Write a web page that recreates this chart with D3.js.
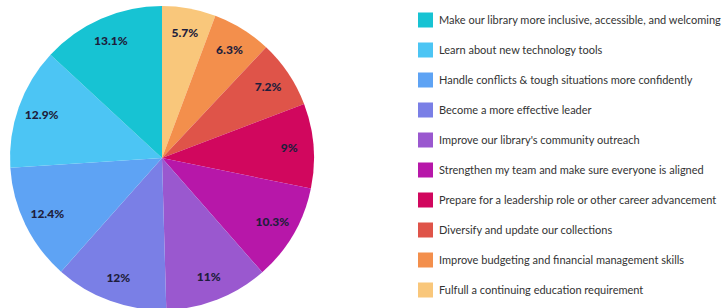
<!DOCTYPE html>
<html>
<head>
<meta charset="utf-8">
<script src="https://cdn.jsdelivr.net/npm/d3@7"></script>
<style>
  body { margin: 0; background: #fff; }
  svg { display: block; }
</style>
</head>
<body>
<div id="chart"></div>
<script>
// legend order (top to bottom)
const goals = [
  'Make our library more inclusive, accessible, and welcoming',
  'Learn about new technology tools',
  'Handle conflicts & tough situations more confidently',
  'Become a more effective leader',
  "Improve our library's community outreach",
  'Strengthen my team and make sure everyone is aligned',
  'Prepare for a leadership role or other career advancement',
  'Diversify and update our collections',
  'Improve budgeting and financial management skills',
  'Fulfull a continuing education requirement'
];
const shares = [13.1, 12.9, 12.4, 12, 11, 10.3, 9, 7.2, 6.3, 5.7];
const labels = ['13.1%', '12.9%', '12.4%', '12%', '11%', '10.3%', '9%', '7.2%', '6.3%', '5.7%'];
const colors = ['#17c3d3', '#4cc5f4', '#5ea3f4', '#7a7fe6', '#9a58cf', '#b717a9', '#d1075e', '#df5449', '#f38f4c', '#f9c77b'];

const width = 725, height = 308;
const cx = 162, cy = 158, radius = 152;

const svg = d3.select('#chart').append('svg')
  .attr('width', width)
  .attr('height', height);

const data = goals.map((g, i) => ({ goal: g, value: shares[i], label: labels[i], color: colors[i] }));

// pie runs clockwise from 12 o'clock, starting with the last legend entry
const pie = d3.pie()
  .value(d => d.value)
  .sort(null);
const arcs = pie(data.slice().reverse());

const arc = d3.arc().innerRadius(0).outerRadius(radius);
const labelArc = d3.arc().innerRadius(radius * 0.84).outerRadius(radius * 0.84);

const g = svg.append('g').attr('transform', `translate(${cx},${cy})`);

g.selectAll('path')
  .data(arcs)
  .enter()
  .append('path')
  .attr('d', arc)
  .attr('fill', d => d.data.color);

g.selectAll('text')
  .data(arcs)
  .enter()
  .append('text')
  .attr('transform', d => `translate(${labelArc.centroid(d)})`)
  .attr('text-anchor', 'middle')
  .attr('dy', '0.35em')
  .style('font-family', 'Lato, sans-serif')
  .style('font-weight', '900')
  .style('font-size', '12px')
  .style('fill', '#1e1e3c')
  .text(d => d.data.label);

// legend
const y = d3.scaleBand()
  .domain(goals)
  .range([5, 305]);

const legend = svg.append('g')
  .selectAll('g')
  .data(data)
  .enter()
  .append('g')
  .attr('transform', d => `translate(418,${y(d.goal) + y.bandwidth() / 2})`);

legend.append('rect')
  .attr('x', 0)
  .attr('y', -7.5)
  .attr('width', 15)
  .attr('height', 15)
  .attr('fill', d => d.color);

legend.append('text')
  .attr('x', 21)
  .attr('dy', '0.35em')
  .style('font-family', 'Lato, sans-serif')
  .style('font-size', '11px')
  .style('fill', '#333')
  .text(d => d.goal);
</script>
</body>
</html>
